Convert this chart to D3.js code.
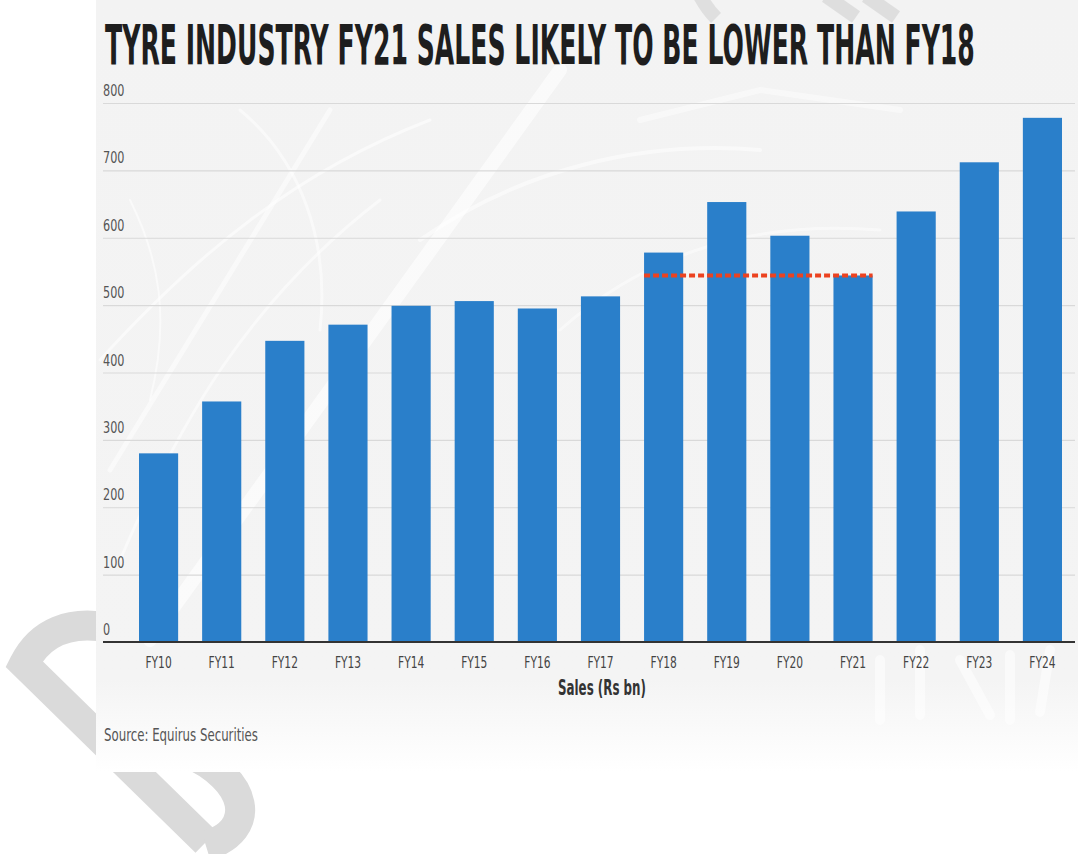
<!DOCTYPE html>
<html>
<head>
<meta charset="utf-8">
<script src="https://cdn.jsdelivr.net/npm/d3@7"></script>
<style>
  html, body { margin: 0; padding: 0; background: #ffffff; }
  svg { display: block; }
  .narrow { font-family: "Liberation Sans Narrow", "DejaVu Sans Condensed", "Liberation Sans", sans-serif; }
</style>
</head>
<body>
<svg id="chart" width="1078" height="854"></svg>
<script>
// Tyre industry sales, Rs bn (FY22–FY24 are projections)
const years = ["FY10","FY11","FY12","FY13","FY14","FY15","FY16","FY17","FY18","FY19","FY20","FY21","FY22","FY23","FY24"];
const sales = [280, 357, 447, 471, 499, 506, 495, 513, 578, 653, 603, 544, 639, 712, 778];
const yTicks = [0, 100, 200, 300, 400, 500, 600, 700, 800];
const refFrom = "FY18";
const refTo = "FY21";

const titleText = "TYRE INDUSTRY FY21 SALES LIKELY TO BE LOWER THAN FY18";
const axisTitle = "Sales (Rs bn)";
const sourceText = "Source: Equirus Securities";

const svg = d3.select("#chart");
const W = 1078, H = 854;
const plot = { left: 103, right: 1075, top: 103, bottom: 642 };

// squeeze text horizontally to get a condensed face
function condense(sel, factor) {
  sel.each(function () {
    const len = this.getComputedTextLength();
    d3.select(this).attr("lengthAdjust", "spacingAndGlyphs").attr("textLength", len * factor);
  });
}

const defs = svg.append("defs");
const fade = defs.append("linearGradient").attr("id", "panelFade")
  .attr("x1", 0).attr("y1", 0).attr("x2", 0).attr("y2", 1);
fade.append("stop").attr("offset", "0%").attr("stop-color", "#f3f3f3");
fade.append("stop").attr("offset", "88%").attr("stop-color", "#f4f4f4");
fade.append("stop").attr("offset", "100%").attr("stop-color", "#ffffff");

// faint "D" watermark stroke at the bottom left, partly hidden by the panel
const mark = svg.append("g").attr("fill", "none").attr("stroke", "#dadada")
  .attr("stroke-width", 30).attr("stroke-linecap", "butt");
mark.append("path").attr("d", "M 110 628 C 70 620, 40 632, 24 664 L 206 842");
mark.append("path").attr("d", "M 186 752 C 250 780, 258 830, 206 846");

// background panel
svg.append("rect").attr("x", 96).attr("y", 0).attr("width", W - 96).attr("height", 772)
  .attr("fill", "url(#panelFade)");

// tyre-tread texture in the panel
const tex = svg.append("g").attr("fill", "none").attr("stroke", "#ffffff").attr("stroke-linecap", "round");
tex.append("path").attr("d", "M 150 640 L 560 70").attr("stroke-width", 14).attr("opacity", 0.6);
tex.append("path").attr("d", "M 110 470 L 330 110").attr("stroke-width", 5).attr("opacity", 0.5);
tex.append("path").attr("d", "M 100 360 C 200 250, 300 170, 430 120").attr("stroke-width", 3).attr("opacity", 0.55);
tex.append("path").attr("d", "M 120 560 C 180 420, 250 300, 380 200").attr("stroke-width", 3).attr("opacity", 0.5);
tex.append("path").attr("d", "M 240 110 C 300 160, 330 240, 320 330").attr("stroke-width", 3).attr("opacity", 0.5);
tex.append("path").attr("d", "M 420 240 C 520 170, 640 140, 760 150").attr("stroke-width", 4).attr("opacity", 0.5);
tex.append("path").attr("d", "M 560 330 C 650 250, 760 220, 880 230").attr("stroke-width", 3).attr("opacity", 0.45);
tex.append("path").attr("d", "M 640 120 L 760 90 L 900 110").attr("stroke-width", 6).attr("opacity", 0.45);
tex.append("path").attr("d", "M 130 200 C 160 260, 170 320, 150 400").attr("stroke-width", 2).attr("opacity", 0.55);
tex.append("path").attr("d", "M 880 660 L 880 720 M 920 650 L 920 715 M 960 660 L 990 715 M 1010 655 L 1010 720 M 1050 650 L 1040 712")
  .attr("stroke-width", 10).attr("opacity", 0.5);

// watermark strokes crossing the top edge, above the title
const markTop = svg.append("g").attr("fill", "none").attr("stroke", "#d8d8d8").attr("stroke-width", 14).attr("opacity", 0.75);
markTop.append("path").attr("d", "M 700 -4 C 705 5, 710 12, 716 18");
markTop.append("path").attr("d", "M 826 -4 L 856 17");
markTop.append("path").attr("d", "M 866 -4 L 896 17");

// scales
const x = d3.scaleBand().domain(years).range([139, 1062]).paddingInner(0.38).paddingOuter(0);
const y = d3.scaleLinear().domain([0, 800]).range([plot.bottom, plot.top]);

// gridlines
svg.append("g")
  .attr("transform", `translate(${plot.left},0)`)
  .call(d3.axisRight(y).tickValues(yTicks.filter(d => d > 0)).tickSize(plot.right - plot.left).tickFormat(""))
  .call(g => g.select(".domain").remove())
  .call(g => g.selectAll("line").attr("stroke", "#d9d9d9").attr("stroke-width", 1.2));

// y tick labels sit above their gridlines, left aligned
svg.append("g").selectAll("text").data(yTicks).join("text")
  .attr("class", "narrow")
  .attr("x", plot.left)
  .attr("y", d => y(d) - 7)
  .attr("font-size", 16)
  .attr("fill", "#555")
  .text(d => d)
  .call(condense, 0.78);

// bars
svg.append("g").selectAll("rect").data(years).join("rect")
  .attr("x", d => x(d))
  .attr("y", (d, i) => y(sales[i]))
  .attr("width", x.bandwidth())
  .attr("height", (d, i) => y(0) - y(sales[i]))
  .attr("fill", "#2a7fca");

// x axis
svg.append("g")
  .attr("transform", `translate(0,${plot.bottom})`)
  .call(d3.axisBottom(x).tickSize(0).tickPadding(15))
  .call(g => g.select(".domain").remove())
  .call(g => g.selectAll("text").attr("class", "narrow").attr("font-size", 16).attr("fill", "#444").call(condense, 0.74));
svg.append("line")
  .attr("x1", plot.left).attr("x2", plot.right)
  .attr("y1", y(0)).attr("y2", y(0))
  .attr("stroke", "#333").attr("stroke-width", 2);

// FY21 level carried back to FY18
const fy21 = sales[years.indexOf(refTo)];
svg.append("line")
  .attr("x1", x(refFrom)).attr("x2", x(refTo) + x.bandwidth())
  .attr("y1", y(fy21)).attr("y2", y(fy21))
  .attr("stroke", "#ec4220").attr("stroke-width", 4)
  .attr("stroke-dasharray", "6,3");

// title: set at a moderate size, then stretched into a tall condensed line
const title = svg.append("text")
  .attr("class", "narrow")
  .attr("x", 0).attr("y", 0)
  .attr("font-size", 40).attr("font-weight", "bold")
  .attr("fill", "#1e1e1e")
  .text(titleText);
const titleLen = title.node().getComputedTextLength();
title.attr("transform", `translate(105,64) scale(${870 / titleLen},1.38)`);

// axis title
svg.append("text")
  .attr("class", "narrow")
  .attr("x", 602).attr("y", 695)
  .attr("text-anchor", "middle")
  .attr("font-size", 21).attr("font-weight", "bold")
  .attr("fill", "#333")
  .attr("textLength", 88).attr("lengthAdjust", "spacingAndGlyphs")
  .text(axisTitle);

// source
svg.append("text")
  .attr("class", "narrow")
  .attr("x", 104).attr("y", 741)
  .attr("font-size", 17)
  .attr("fill", "#555")
  .attr("textLength", 154).attr("lengthAdjust", "spacingAndGlyphs")
  .text(sourceText);
</script>
</body>
</html>
